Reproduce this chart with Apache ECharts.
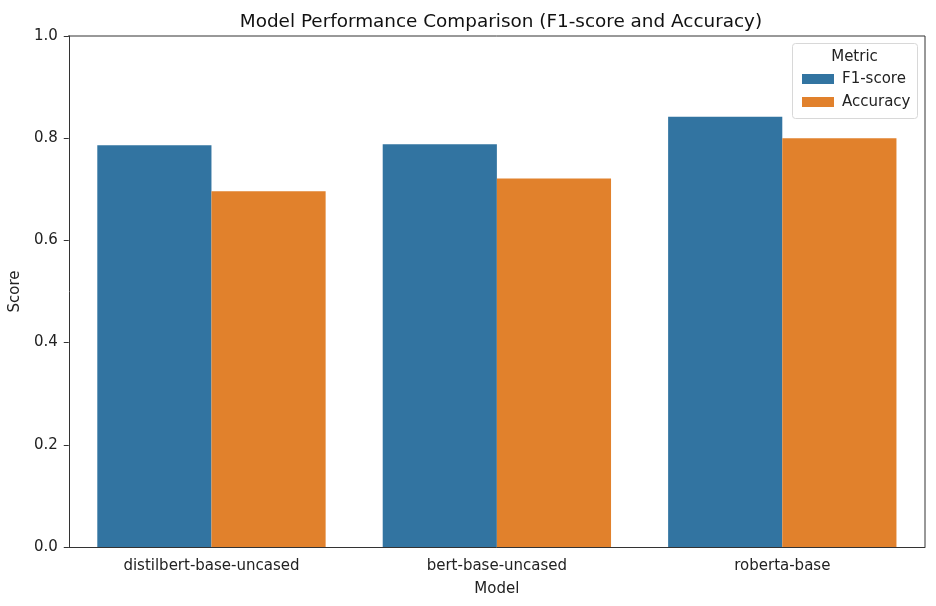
<!DOCTYPE html>
<html>
<head>
<meta charset="utf-8">
<script src="https://cdn.jsdelivr.net/npm/echarts@6/dist/echarts.min.js"></script>
<style>html,body{margin:0;padding:0;background:#fff;}#c{width:936px;height:606px;}</style>
</head>
<body>
<div id="c"></div>
<script>
const categories = ['distilbert-base-uncased', 'bert-base-uncased', 'roberta-base'];
const f1Scores = [0.786, 0.788, 0.842];
const accuracies = [0.696, 0.721, 0.800];
const yTicks = [0.0, 0.2, 0.4, 0.6, 0.8, 1.0];

const font = 'DejaVu Sans';
const chart = echarts.init(document.getElementById('c'));
chart.setOption({
  animation: false,
  backgroundColor: '#fff',
  title: {
    text: 'Model Performance Comparison (F1-score and Accuracy)',
    left: 496, top: 8, textAlign: 'center',
    textStyle: { fontFamily: font, fontSize: 18.4, fontWeight: 'normal', color: '#111' }
  },
  grid: { left: 68, right: 11, top: 36, bottom: 59, containLabel: false },
  legend: {
    orient: 'vertical', left: 797, top: 65,
    data: ['F1-score', 'Accuracy'],
    itemWidth: 32, itemHeight: 10, itemGap: 5,
    icon: 'rect',
    textStyle: { fontFamily: font, fontSize: 15, color: '#222', lineHeight: 18, padding: [0, 0, 0, 3] }
  },
  graphic: [
    { type: 'rect', left: 792, top: 43, shape: { width: 125, height: 75, r: 3 },
      style: { fill: 'rgba(255,255,255,0.8)', stroke: '#d8d8d8', lineWidth: 1 }, z: -1 },
    { type: 'text', x: 854.5, y: 57, style: { text: 'Metric', fontFamily: font, fontSize: 15, fill: '#222', textAlign: 'center', textVerticalAlign: 'middle' } },
    { type: 'line', shape: { x1: 68, y1: 36, x2: 925, y2: 36 }, style: { stroke: '#333', lineWidth: 1 } },
    { type: 'line', shape: { x1: 925, y1: 36, x2: 925, y2: 547 }, style: { stroke: '#333', lineWidth: 1 } }
  ],
  xAxis: {
    type: 'category', data: categories,
    name: 'Model', nameLocation: 'middle', nameGap: 35,
    nameTextStyle: { fontFamily: font, fontSize: 15, color: '#222' },
    axisLine: { lineStyle: { color: '#333', width: 1 } },
    axisTick: { alignWithLabel: true, length: 5, lineStyle: { color: '#333' } },
    axisLabel: { fontFamily: font, fontSize: 15, color: '#222', margin: 12 }
  },
  yAxis: {
    type: 'value', min: 0, max: 1, interval: 0.2,
    name: 'Score', nameLocation: 'middle', nameGap: 40,
    nameTextStyle: { fontFamily: font, fontSize: 15, color: '#222' },
    axisLine: { show: true, lineStyle: { color: '#333', width: 1 } },
    axisTick: { show: true, length: 5, lineStyle: { color: '#333' } },
    axisLabel: { fontFamily: font, fontSize: 15, color: '#222', margin: 11,
      formatter: v => { const t = yTicks.find(x => Math.abs(x - v) < 1e-9); return (t !== undefined ? t : v).toFixed(1); } },
    splitLine: { show: false }
  },
  series: [
    { name: 'F1-score', type: 'bar', data: f1Scores, barWidth: '40%', barGap: '0%',
      itemStyle: { color: '#3274a1' } },
    { name: 'Accuracy', type: 'bar', data: accuracies, barWidth: '40%', barGap: '0%',
      itemStyle: { color: '#e1812c' } }
  ]
});
</script>
</body>
</html>
